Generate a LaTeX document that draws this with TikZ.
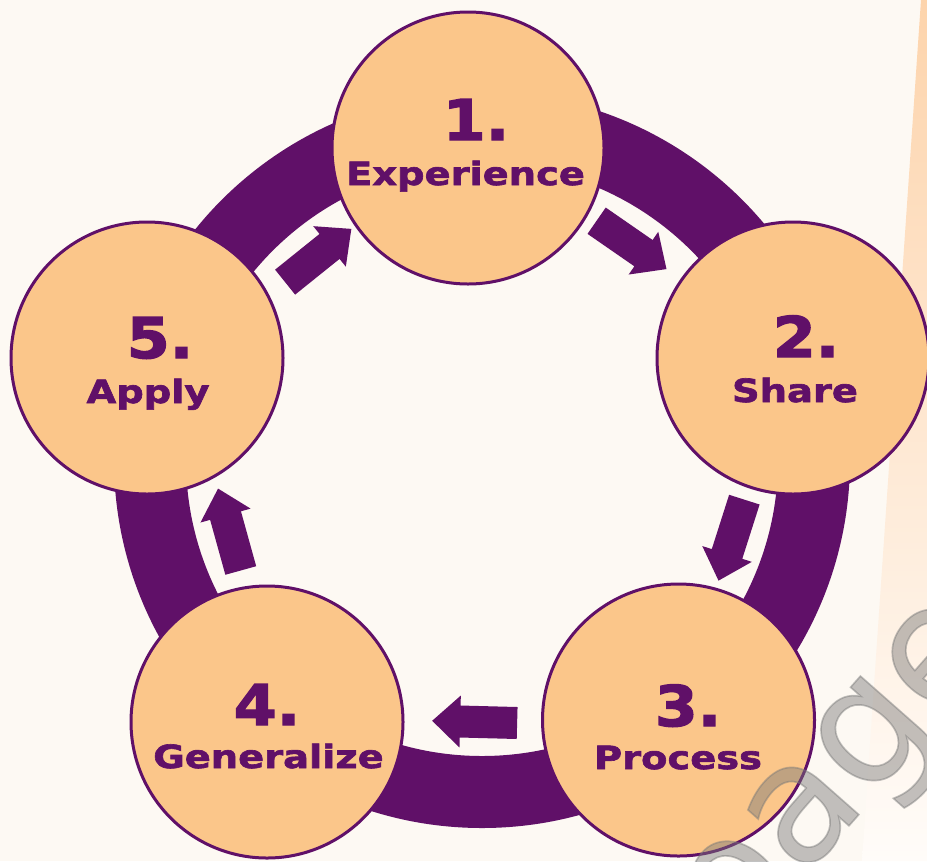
\documentclass[tikz,border=0pt]{standalone}
\usepackage{fontspec}
\usetikzlibrary{calc}
\newfontfamily\labfont[FakeStretch=1.2,FakeBold=2]{DejaVu Sans}
\newfontfamily\numfont[FakeStretch=1.1,FakeBold=2.5]{DejaVu Sans}
\newfontfamily\wmfont[FakeBold=1]{DejaVu Sans}
\definecolor{ringc}{RGB}{96,16,104}
\definecolor{peach}{RGB}{251,198,138}
\definecolor{bgc}{RGB}{253,249,243}
\definecolor{wmc}{RGB}{120,120,120}
\newcommand\cycarrow[1]{%
  \begin{scope}[shift={($(C)+(#1:262)$)}, rotate={-(#1)-90}]
    \fill[ringc] (-42,-16) -- (15,-16) -- (15,-26) -- (43,0) -- (15,26) -- (15,16) -- (-42,16) -- cycle;
  \end{scope}}
\begin{document}
\begin{tikzpicture}[x=0.75pt,y=-0.75pt,
  stage/.style={circle, draw=ringc, fill=peach, line width=2.25pt, minimum size=204pt, inner sep=0pt},
  numtxt/.style={text=ringc, font=\numfont\bfseries\fontsize{42}{42}\selectfont, anchor=base, inner sep=0pt},
  labtxt/.style={text=ringc, font=\labfont\bfseries\fontsize{24}{24}\selectfont, anchor=base, inner sep=0pt}]
  \useasboundingbox (0,0) rectangle (927,861);
  \clip (0,0) rectangle (927,861);
  \fill[bgc] (0,0) rectangle (927,861);
  % right stripe
  \shade[top color={rgb,255:red,253;green,212;blue,172}, middle color={rgb,255:red,254;green,228;blue,202}, bottom color={rgb,255:red,255;green,252;blue,249}]
    (921,0) -- (935,0) -- (935,861) -- (862,861) -- cycle;
  % ring
  \coordinate (C) at (482,460);
  \fill[ringc, even odd rule] (C) circle (368) (C) circle (296);
  % arrows
  \cycarrow{-55.3}
  \cycarrow{17.7}
  \cycarrow{91.5}
  \cycarrow{164.5}
  \cycarrow{-128.8}
  % stages
  \node[stage] (s1) at (468,148) {};
  \node[stage] (s2) at (793,358) {};
  \node[stage] (s3) at (678.5,720) {};
  \node[stage] (s4) at (267,722) {};
  \node[stage] (s5) at (147,358) {};
  \node[numtxt] (n1) at (476,140) {1.};
  \node[labtxt] (l1) at (465.5,185) {Experience};
  \node[numtxt] (n2) at (806,357) {2.};
  \node[labtxt] (l2) at (795,402) {Share};
  \node[numtxt] (n3) at (688,726) {3.};
  \node[labtxt] (l3) at (678,769) {Process};
  \node[numtxt] (n4) at (267,725) {4.};
  \node[labtxt] (l4) at (268.5,768) {Generalize};
  \node[numtxt] (n5) at (160,358) {5.};
  \node[labtxt] (l5) at (148,403) {Apply};
  % watermark
  \node[rotate=48.6, text=wmc, opacity=0.45, font=\wmfont\fontsize{124}{124}\selectfont] (wm) at (847,784) {page};
\end{tikzpicture}
\end{document}
